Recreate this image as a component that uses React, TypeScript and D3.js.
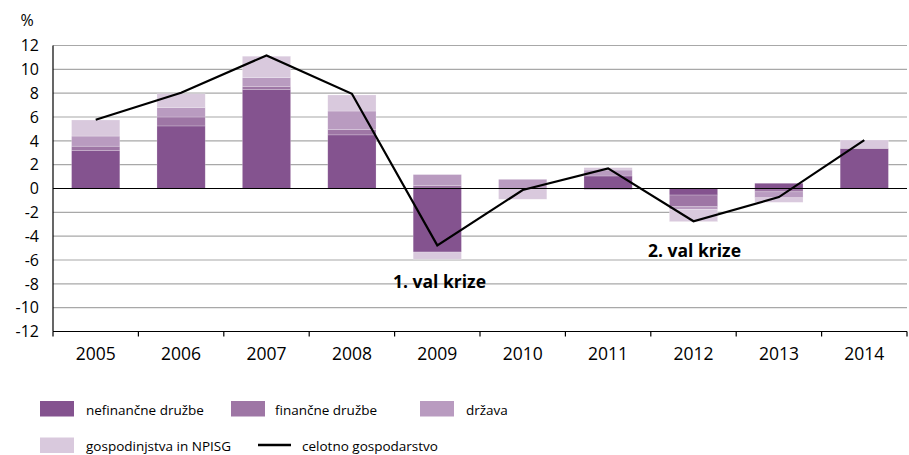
import * as d3 from "d3";

const years = ["2005", "2006", "2007", "2008", "2009", "2010", "2011", "2012", "2013", "2014"];

// contributions by sector (p.p.)
const nefinancne = [3.2, 5.25, 8.3, 4.5, -5.33, 0, 1.05, -0.55, 0.44, 3.37];
const financne = [0.35, 0.75, 0.27, 0.45, 0.25, 0, -0.08, -0.98, -0.28, 0];
const drzava = [0.85, 0.8, 0.73, 1.55, 0.92, 0.77, 0.5, -0.22, -0.5, 0];
const gospodinjstva = [1.35, 1.15, 1.8, 1.35, -0.6, -0.9, 0.2, -1.03, -0.38, 0.7];
const celotno = [5.77, 8.04, 11.17, 7.95, -4.77, -0.13, 1.69, -2.75, -0.72, 4.06];

const yTicks = [-12, -10, -8, -6, -4, -2, 0, 2, 4, 6, 8, 10, 12];

const seriesKeys = ["nef", "fin", "drz", "gos"];
const seriesLabels = ["nefinančne družbe", "finančne družbe", "država", "gospodinjstva in NPISG"];
const colors = ["#84538f", "#9e76a5", "#b99bc0", "#d9c9dd"];

const font = "'Open Sans', sans-serif";

export default function App() {
  const width = 909;
  const height = 455;
  const x = d3.scaleBand<string>().domain(years).range([53, 907]).padding(0);
  const y = d3.scaleLinear().domain([-12, 12]).range([331.5, 45.5]);
  const barW = x.bandwidth() * 0.565;

  const rows = years.map((yr, i) => ({
    year: yr,
    nef: nefinancne[i],
    fin: financne[i],
    drz: drzava[i],
    gos: gospodinjstva[i],
  }));
  const stacked = d3.stack<any>().keys(seriesKeys).offset(d3.stackOffsetDiverging)(rows);

  const line = d3
    .line<number>()
    .x((_, i) => (x(years[i]) ?? 0) + x.bandwidth() / 2)
    .y((d) => y(d));

  const legendItems = [
    { label: seriesLabels[0], color: colors[0], sx: 40, tx: 86, row: 0 },
    { label: seriesLabels[1], color: colors[1], sx: 231, tx: 275, row: 0 },
    { label: seriesLabels[2], color: colors[2], sx: 420, tx: 466, row: 0 },
    { label: seriesLabels[3], color: colors[3], sx: 40, tx: 86, row: 1 },
  ];
  const rowY = [408.5, 445];

  return (
    <svg
      width={width}
      height={height}
      style={{ position: "absolute", left: 0, top: 0, background: "#fff" }}
      fontFamily={font}
    >
      {/* gridlines */}
      {yTicks
        .filter((t) => t !== 0 && t !== -12)
        .map((t) => (
          <line key={t} x1={53} x2={907} y1={y(t)} y2={y(t)} stroke="#a8a8a8" strokeWidth={1.2} />
        ))}

      {/* bars */}
      {stacked.map((s, si) =>
        s.map((d, i) => {
          const y0 = y(d[0]);
          const y1 = y(d[1]);
          if (Math.abs(y0 - y1) < 0.01) return null;
          return (
            <rect
              key={`${si}-${i}`}
              x={(x(years[i]) ?? 0) + (x.bandwidth() - barW) / 2}
              y={Math.min(y0, y1)}
              width={barW}
              height={Math.abs(y0 - y1)}
              fill={colors[si]}
              stroke="#ffffff"
              strokeOpacity={0.35}
              strokeWidth={0.6}
            />
          );
        })
      )}

      {/* zero line & axes */}
      <line x1={53} x2={907} y1={y(0)} y2={y(0)} stroke="#000" strokeWidth={1.2} />
      <line x1={53} x2={907} y1={y(-12)} y2={y(-12)} stroke="#000" strokeWidth={1.2} />
      <line x1={53} x2={53} y1={y(12)} y2={y(-12)} stroke="#000" strokeWidth={1.2} />
      {[...years.map((yr) => x(yr) ?? 0), 907].map((tx, i) => (
        <line key={i} x1={tx} x2={tx} y1={y(-12)} y2={y(-12) + 5} stroke="#000" strokeWidth={1.2} />
      ))}

      {/* total line */}
      <path d={line(celotno) ?? ""} fill="none" stroke="#000" strokeWidth={2.2} strokeLinejoin="miter" />

      {/* y labels */}
      {yTicks.map((t) => (
        <text key={t} x={39} y={y(t) + 5.8} textAnchor="end" fontSize={16} fill="#000">
          {t}
        </text>
      ))}
      <text x={20.5} y={25.5} fontSize={16} fill="#000">
        %
      </text>

      {/* x labels */}
      {years.map((yr) => (
        <text
          key={yr}
          x={(x(yr) ?? 0) + x.bandwidth() / 2}
          y={359.5}
          textAnchor="middle"
          fontSize={17.5}
          fill="#000"
        >
          {yr}
        </text>
      ))}

      {/* annotations */}
      <text x={393} y={288.3} fontSize={17.5} fontWeight="bold" fill="#000">
        1. val krize
      </text>
      <text x={648} y={257.3} fontSize={17.5} fontWeight="bold" fill="#000">
        2. val krize
      </text>

      {/* legend */}
      {legendItems.map((it) => (
        <g key={it.label}>
          <rect x={it.sx} y={rowY[it.row] - 7.5} width={34} height={15.5} fill={it.color} />
          <text x={it.tx} y={rowY[it.row] + 6} fontSize={13.5} fill="#000">
            {it.label}
          </text>
        </g>
      ))}
      <line x1={258} x2={291} y1={rowY[1]} y2={rowY[1]} stroke="#000" strokeWidth={2.5} />
      <text x={302} y={rowY[1] + 6} fontSize={13.5} fill="#000">
        celotno gospodarstvo
      </text>
    </svg>
  );
}
